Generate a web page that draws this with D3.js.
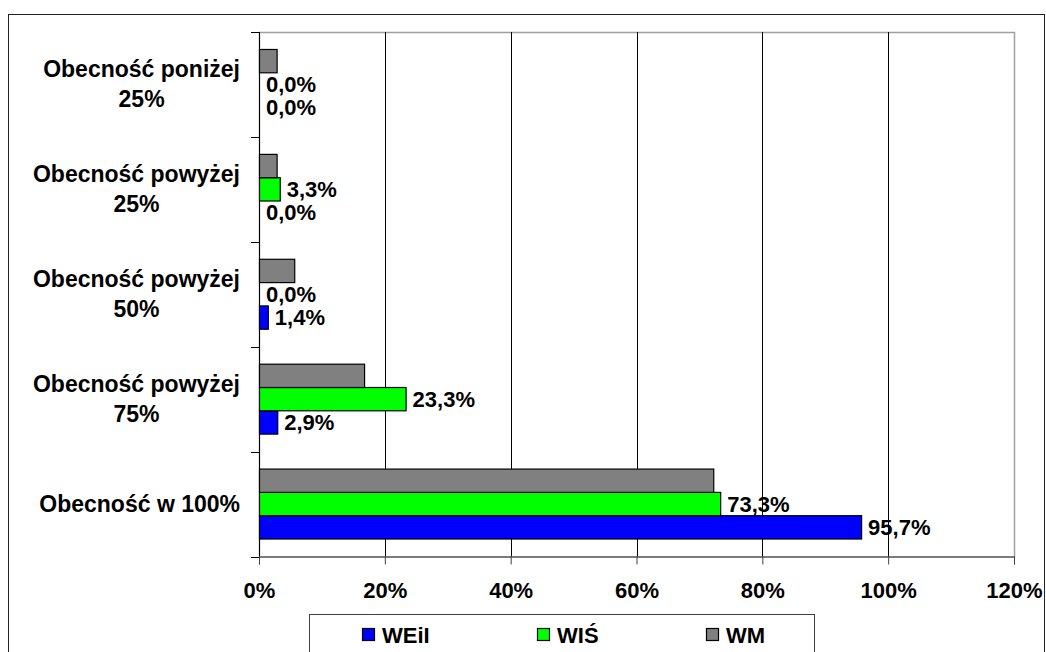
<!DOCTYPE html>
<html><head><meta charset="utf-8">
<script src="https://cdnjs.cloudflare.com/ajax/libs/d3/7.8.5/d3.min.js"></script>
<style>
html,body{margin:0;padding:0;background:#fff;}
svg{display:block;}
text{font-family:"Liberation Sans",Arial,sans-serif;font-weight:bold;fill:#000;}
</style></head>
<body>
<svg id="chart" width="1046" height="652"></svg>
<script>
const categories = [
  ["Obecność poniżej", "25%"],
  ["Obecność powyżej", "25%"],
  ["Obecność powyżej", "50%"],
  ["Obecność powyżej", "75%"],
  ["Obecność w 100%"]
];
const seriesNames = ["WEiI", "WIŚ", "WM"];
const WEiI = [0.0, 0.0, 1.4, 2.9, 95.7];
const WIS = [0.0, 3.3, 0.0, 23.3, 73.3];
const WM = [2.8, 2.8, 5.6, 16.7, 72.2];
const xTicks = [0, 20, 40, 60, 80, 100, 120];
const colors = {"WEiI": "#0000ff", "WIŚ": "#00ff00", "WM": "#808080"};
const labelled = {"WEiI": true, "WIŚ": true, "WM": false};

const seriesData = {"WEiI": WEiI, "WIŚ": WIS, "WM": WM};
const catKeys = categories.map(c => c.join(" "));

const svg = d3.select("#chart");
// outer border
svg.append("rect").attr("x", 8.5).attr("y", 14.5).attr("width", 1036).attr("height", 700)
  .attr("fill", "none").attr("stroke", "#222").attr("stroke-width", 1);

const L = 259, R = 1014, T = 32, B = 556.5;
const x = d3.scaleLinear().domain([0, 120]).range([L, R]);
const y = d3.scaleBand().domain(catKeys).range([T, B]).paddingInner(1/3).paddingOuter(1/6);
const yi = d3.scaleBand().domain(["WM", "WIŚ", "WEiI"]).range([0, y.bandwidth()]);

// plot area border
svg.append("rect").attr("x", L + 0.5).attr("y", T + 0.5).attr("width", R - L).attr("height", B - T)
  .attr("fill", "none").attr("stroke", "#a0a0a0").attr("stroke-width", 1.5);

// gridlines
svg.append("g").selectAll("line").data(xTicks.filter(t => t > 0 && t < 120)).join("line")
  .attr("x1", d => Math.round(x(d)) + 0.5).attr("x2", d => Math.round(x(d)) + 0.5)
  .attr("y1", T).attr("y2", B).attr("stroke", "#000").attr("stroke-width", 1);

// x axis
const xAxis = d3.axisBottom(x).tickValues(xTicks).tickSize(8).tickPadding(18)
  .tickFormat(d => d + "%");
const gx = svg.append("g").attr("transform", `translate(0,${B})`).call(xAxis);
gx.select(".domain").attr("stroke", "#404040");
gx.selectAll(".tick line").attr("stroke", "#404040");
gx.selectAll(".tick text").style("font-size", "22px").style("font-family", '"Liberation Sans",Arial,sans-serif').style("font-weight", "bold").attr("fill", "#000");

// y axis line and ticks at boundaries
svg.append("line").attr("x1", L + 0.5).attr("x2", L + 0.5).attr("y1", T).attr("y2", B)
  .attr("stroke", "#000");
const bounds = d3.range(catKeys.length + 1).map(i => T + i * y.step());
svg.append("g").selectAll("line").data(bounds).join("line")
  .attr("x1", L - 8).attr("x2", L).attr("y1", d => Math.round(d) + 0.5).attr("y2", d => Math.round(d) + 0.5)
  .attr("stroke", "#000");

// category labels
const catRight = 240;
categories.forEach((lines, i) => {
  const cy = y(catKeys[i]) + y.bandwidth() / 2;
  const g = svg.append("g");
  const lh = 30;
  const texts = lines.map((ln, j) => g.append("text").text(ln)
    .attr("y", cy + (j - (lines.length - 1) / 2) * lh)
    .attr("dominant-baseline", "central").attr("text-anchor", "middle")
    .style("font-size", "23px"));
  const w = d3.max(texts, t => t.node().getComputedTextLength());
  texts.forEach(t => t.attr("x", catRight - w / 2));
});

// bars
seriesNames.forEach(s => {
  const vals = seriesData[s];
  const g = svg.append("g");
  g.selectAll("rect").data(vals).join("rect")
    .attr("x", L + 0.5)
    .attr("y", (d, i) => y(catKeys[i]) + yi(s))
    .attr("width", d => Math.max(0, x(d) - L))
    .attr("height", yi.bandwidth())
    .attr("fill", colors[s]).attr("stroke", d => d > 0 ? "#000" : "none").attr("stroke-width", 1.2);
  if (labelled[s]) {
    g.selectAll("text").data(vals).join("text")
      .attr("x", d => x(d) + 7)
      .attr("y", (d, i) => y(catKeys[i]) + yi(s) + yi.bandwidth() / 2)
      .attr("dominant-baseline", "central")
      .style("font-size", "22px")
      .text(d => d.toFixed(1).replace(".", ",") + "%");
  }
});

// legend
const lg = svg.append("g");
lg.append("rect").attr("x", 309.5).attr("y", 614.5).attr("width", 505).attr("height", 60)
  .attr("fill", "#fff").attr("stroke", "#404040");
const legendX = [362, 537, 706];
seriesNames.forEach((s, i) => {
  lg.append("rect").attr("x", legendX[i] + 0.5).attr("y", 628.5).attr("width", 12).attr("height", 12)
    .attr("fill", colors[s]).attr("stroke", "#000").attr("stroke-width", 1.2);
  lg.append("text").attr("x", legendX[i] + 20).attr("y", 635).attr("dominant-baseline", "central")
    .style("font-size", "22px").text(s);
});
</script>
</body></html>
